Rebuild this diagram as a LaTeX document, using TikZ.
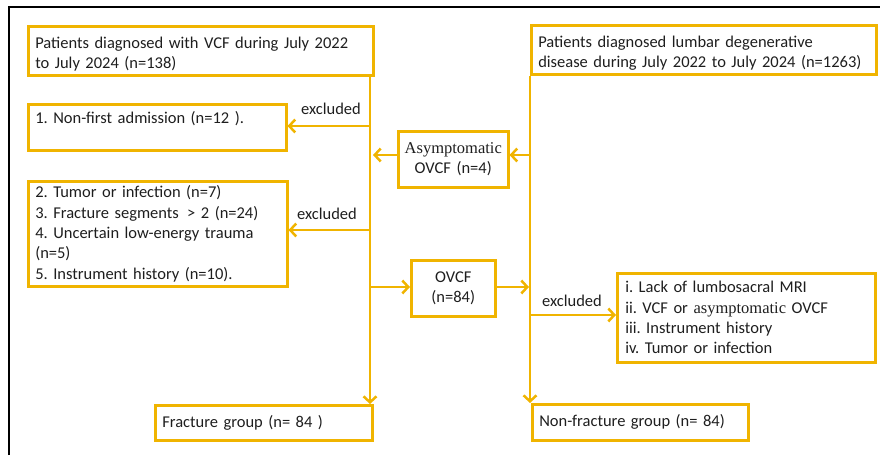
\documentclass[tikz,border=0pt]{standalone}
\usepackage{fontspec}
\setmainfont{Carlito}
\newfontfamily\tnr{Liberation Serif}
\usetikzlibrary{arrows.meta,calc}
\definecolor{ora}{HTML}{F0B400}
\definecolor{txt}{HTML}{1E1E1E}
\frenchspacing
\newcommand\tallstrut{\rule{0pt}{18.5pt}}
\begin{document}
\begin{tikzpicture}[x=1pt,y=-1pt,
  box/.style={draw=ora, line width=2.5pt, rectangle, inner ysep=0pt, inner xsep=7pt,
    align=left, anchor=north west, text=txt, font=\fontsize{16.5}{20.3}\selectfont},
  cbox/.style={box, align=center, inner xsep=2pt},
  con/.style={draw=ora, line width=2.5pt, -{Straight Barb[length=6pt,width=13pt]}},
  lbl/.style={font=\fontsize{16.5}{18}\selectfont, inner sep=0pt, text=txt},
  frame/.style={draw=black, line width=1.6pt}]
\useasboundingbox (0,0) rectangle (880,455);
\draw[frame] (9,455) -- (9,7) -- (880,7);

% boxes
\node[box, text width=331pt, minimum height=49pt] (A) at (27,25)
  {\tallstrut Patients diagnosed with VCF during July 2022\\to July 2024 (n=138)};
\node[box, text width=244pt, minimum height=46pt] (B) at (27,103)
  {1. Non-first admission (n=12 ).\\\mbox{}};
\node[box, text width=245pt, minimum height=105pt] (C) at (27,180)
  {2. Tumor or infection (n=7)\\3. Fracture segments\enspace{}> 2 (n=24)\\4. Uncertain low-energy trauma\\(n=5)\\5. Instrument history (n=10).};
\node[cbox, text width=106pt, minimum height=56pt] (As) at (397,130)
  {{\tnr Asymptomatic}\\OVCF (n=4)};
\node[box, text width=331pt, minimum height=49pt] (R) at (530,24)
  {\tallstrut Patients diagnosed lumbar degenerative\\disease during July 2022 to July 2024 (n=1263)};
\node[cbox, text width=80pt, minimum height=56pt] (O) at (410,259)
  {OVCF\\(n=84)};
\node[box, inner xsep=8pt, text width=242pt, minimum height=89pt] (E) at (616,272)
  {i. Lack of lumbosacral MRI\\ii. VCF or {\tnr asymptomatic} OVCF\\iii. Instrument history\\iv. Tumor or infection};
\node[box, text width=203pt, minimum height=35pt] (F) at (154,404)
  {Fracture group (n= 84 )};
\node[box, text width=202pt, minimum height=36pt] (N) at (531,403)
  {Non-fracture group (n= 84)};

% labels
\node[lbl] (x1) at (331,109) {excluded};
\node[lbl] (x2) at (327,214) {excluded};
\node[lbl] (x3) at (572,301) {excluded};

% junction coordinates
\coordinate (l1) at (370,126);
\coordinate (l2) at (370,230);
\coordinate (l3) at (373,155);
\coordinate (l4) at (370,287);
\coordinate (r1) at (530,155);
\coordinate (r2) at (529,287);
\coordinate (r3) at (530,315);

% connectors
\draw[con] (A.south -| l1) -- (F.north -| l1);
\draw[con] (l1) -- (B.east |- l1);
\draw[con] (l2) -- (C.east |- l2);
\draw[con] (As.west |- l3) -- (l3);
\draw[con] (l4) -- (O.west |- l4);
\draw[con] (R.south -| r1) -- (N.north -| r1);
\draw[con] (r1) -- (As.east |- r1);
\draw[con] (O.east |- r2) -- (r2);
\draw[con] (r3) -- (E.west |- r3);
\end{tikzpicture}
\end{document}
